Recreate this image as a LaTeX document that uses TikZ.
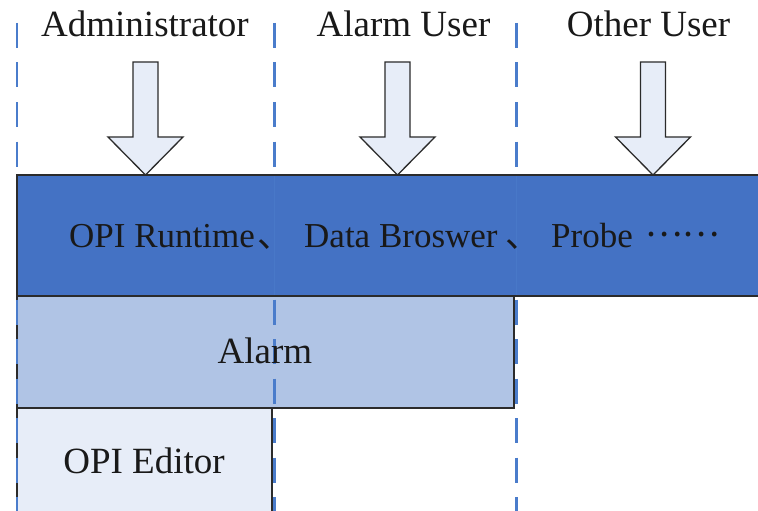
\documentclass[tikz,border=0pt]{standalone}
\usepackage{fontspec}
\setmainfont{Liberation Serif}
\newfontfamily\cjk{Noto Sans CJK SC}
\definecolor{bandblue}{HTML}{4472C4}
\definecolor{alarmblue}{HTML}{B0C4E5}
\definecolor{paleblue}{HTML}{E7EDF8}
\definecolor{dashblue}{HTML}{4A7CCB}
\definecolor{edgegray}{HTML}{2B2B2B}
\tikzset{
  lbl/.style={inner sep=0pt, anchor=base, text=black!90, font=\fontsize{37}{44}\selectfont},
  bandlbl/.style={inner sep=0pt, anchor=base west, text=black!90, font=\fontsize{35}{42}\selectfont},
  boxedge/.style={draw=edgegray, line width=1.4pt},
  blockarrow/.style={draw=edgegray, fill=paleblue, line width=1.3pt, line join=miter},
  lane/.style={draw=dashblue, line width=2.6pt, dash pattern=on 25pt off 14.5pt}
}
\begin{document}
\begin{tikzpicture}[x=1pt, y=-1pt]
\useasboundingbox (0,0) rectangle (758,511);
\fill[white] (0,0) rectangle (758,511);
% lower boxes
\path[boxedge, fill=alarmblue] (17,296) rectangle (514,408);
\path[boxedge, fill=paleblue] (17,408) rectangle (272,515);
% lane separators
\foreach \lx in {17,274.5,516.5} {
  \draw[lane] (\lx,23) -- (\lx,511);
}
% band on top
\path[boxedge, fill=bandblue] (17,175) rectangle (762,296);
\draw[draw=dashblue!60!bandblue, line width=0.8pt] (274.5,176) -- (274.5,295) (516.5,176) -- (516.5,295);
% texts
\node[lbl] (admin) at (145,37) {Administrator};
\node[lbl] (alarmuser) at (403.5,37) {Alarm User};
\node[lbl] (otheruser) at (648.5,37) {Other User};
\node[bandlbl] (runtime) at (69,247) {OPI Runtime};
\node[bandlbl] (comma1) at (257,247) {\cjk 、};
\node[bandlbl] (browser) at (304,247) {Data Broswer};
\node[bandlbl] (comma2) at (505,247) {\cjk 、};
\node[bandlbl] (probe) at (551,247) {Probe};
\node[bandlbl] (dots) at (645,236) {\cjk ……};
\node[lbl] (alarm) at (265,363) {Alarm};
\node[lbl] (editor) at (144,473) {OPI Editor};
% block arrows
\foreach \cx in {145.5,397.5,653} {
  \draw[blockarrow] (\cx-12.5,62) -- (\cx+12.5,62) -- (\cx+12.5,137) -- (\cx+37.5,137)
    -- (\cx,175) -- (\cx-37.5,137) -- (\cx-12.5,137) -- cycle;
}
\end{tikzpicture}
\end{document}
